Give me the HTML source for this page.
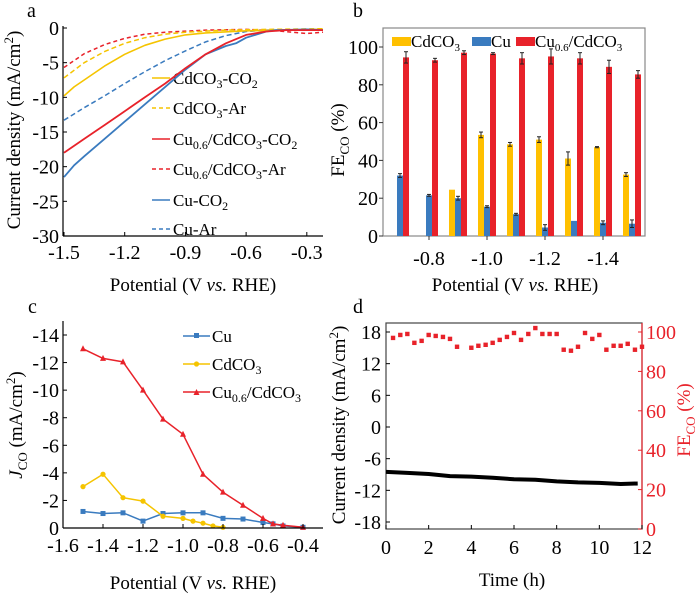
<!DOCTYPE html>
<html><head><meta charset="utf-8"><style>
html,body{margin:0;padding:0;background:#fff;}
svg, svg text, svg tspan{font-family:"Liberation Serif","Times New Roman",Times,"DejaVu Serif",serif !important;}
</style></head><body>
<svg id="fig" width="700" height="594" viewBox="0 0 700 594" xmlns="http://www.w3.org/2000/svg">
<text x="27" y="17" font-size="20">a</text>
<text x="353" y="17" font-size="20">b</text>
<text x="28" y="313" font-size="20">c</text>
<text x="353" y="313" font-size="20">d</text>
<text x="193" y="291" font-size="19" text-anchor="middle">Potential (V <tspan font-style="italic">vs.</tspan> RHE)</text>
<text transform="translate(20,130) rotate(-90)" font-size="19" text-anchor="middle">Current density (mA/cm<tspan dy="-7" font-size="13">2</tspan><tspan dy="7">)</tspan></text>
<text x="515" y="291" font-size="19" text-anchor="middle">Potential (V <tspan font-style="italic">vs.</tspan> RHE)</text>
<text transform="translate(344,140) rotate(-90)" font-size="19" text-anchor="middle">FE<tspan dy="5" font-size="13">CO</tspan><tspan dy="-5"> (%)</tspan></text>
<text x="193" y="589" font-size="19" text-anchor="middle">Potential (V <tspan font-style="italic">vs.</tspan> RHE)</text>
<text transform="translate(22,425) rotate(-90)" font-size="19" text-anchor="middle"><tspan font-style="italic">J</tspan><tspan dy="5" font-size="13">CO</tspan><tspan dy="-5"> (mA/cm</tspan><tspan dy="-7" font-size="13">2</tspan><tspan dy="7">)</tspan></text>
<text x="512" y="586" font-size="19" text-anchor="middle">Time (h)</text>
<text transform="translate(345,425) rotate(-90)" font-size="19" text-anchor="middle">Current density (mA/cm<tspan dy="-7" font-size="13">2</tspan><tspan dy="7">)</tspan></text>
<text transform="translate(690,420) rotate(-90)" font-size="19" text-anchor="middle" fill="#e8222a">FE<tspan dy="5" font-size="13">CO</tspan><tspan dy="-5"> (%)</tspan></text>
<g font-size="17">
<line x1="152" y1="78" x2="170" y2="78" stroke="#f5c400" stroke-width="1.5"/><text x="173" y="84">CdCO<tspan dy="4" font-size="12">3</tspan><tspan dy="-4">-CO</tspan><tspan dy="4" font-size="12">2</tspan></text>
<line x1="152" y1="108" x2="170" y2="108" stroke="#f5c400" stroke-width="1.5" stroke-dasharray="4,3"/><text x="173" y="114">CdCO<tspan dy="4" font-size="12">3</tspan><tspan dy="-4">-Ar</tspan></text>
<line x1="152" y1="139" x2="170" y2="139" stroke="#e8222a" stroke-width="1.5"/><text x="173" y="145">Cu<tspan dy="4" font-size="12">0.6</tspan><tspan dy="-4">/CdCO</tspan><tspan dy="4" font-size="12">3</tspan><tspan dy="-4">-CO</tspan><tspan dy="4" font-size="12">2</tspan></text>
<line x1="152" y1="169" x2="170" y2="169" stroke="#e8222a" stroke-width="1.5" stroke-dasharray="4,3"/><text x="173" y="175">Cu<tspan dy="4" font-size="12">0.6</tspan><tspan dy="-4">/CdCO</tspan><tspan dy="4" font-size="12">3</tspan><tspan dy="-4">-Ar</tspan></text>
<line x1="152" y1="200" x2="170" y2="200" stroke="#3a7bbf" stroke-width="1.5"/><text x="173" y="206">Cu-CO<tspan dy="4" font-size="12">2</tspan></text>
<line x1="152" y1="229" x2="170" y2="229" stroke="#3a7bbf" stroke-width="1.5" stroke-dasharray="4,3"/><text x="173" y="235">Cu-Ar</text>
</g>
<g font-size="17">
<rect x="392" y="37" width="19" height="9" fill="#ffc000"/><text x="411" y="47">CdCO<tspan dy="4" font-size="11">3</tspan></text>
<rect x="472" y="37" width="19" height="9" fill="#3a7bbf"/><text x="491" y="47">Cu</text>
<rect x="516" y="37" width="19" height="9" fill="#e8222a"/><text x="535" y="47">Cu<tspan dy="4" font-size="11">0.6</tspan><tspan dy="-4">/CdCO</tspan><tspan dy="4" font-size="11">3</tspan></text>
</g>
<g font-size="17">
<line x1="183" y1="336" x2="210" y2="336" stroke="#3a7bbf" stroke-width="1.5"/><rect x="194" y="333" width="5" height="5" fill="#3a7bbf"/><text x="212" y="342">Cu</text>
<line x1="183" y1="364" x2="210" y2="364" stroke="#f5c400" stroke-width="1.5"/><circle cx="196.5" cy="364" r="2.6" fill="#f5c400"/><text x="212" y="370">CdCO<tspan dy="4" font-size="12">3</tspan></text>
<line x1="183" y1="392" x2="210" y2="392" stroke="#e8222a" stroke-width="1.5"/><path d="M193.5,395 L196.5,389 L199.5,395Z" fill="#e8222a"/><text x="212" y="398">Cu<tspan dy="4" font-size="12">0.6</tspan><tspan dy="-4">/CdCO</tspan><tspan dy="4" font-size="12">3</tspan></text>
</g>
<g id="marks"></g>
</svg>
<script>
// ---------- Panel a data ----------
const aCuCO2V = [-1.5,-1.45,-1.4,-1.3,-1.2,-1.1,-1.0,-0.9,-0.8,-0.7,-0.65,-0.6,-0.5,-0.45,-0.3,-0.22];
const aCuCO2J = [-21.5,-19.8,-18.5,-16,-13.5,-11,-8.5,-6,-3.8,-2.6,-2.2,-1.4,-0.5,-0.3,-0.2,-0.3];
const aCuCdCO2V = [-1.5,-1.4,-1.3,-1.2,-1.1,-1.0,-0.9,-0.8,-0.7,-0.6,-0.5,-0.4,-0.22];
const aCuCdCO2J = [-18,-16,-14,-12,-10,-8,-5.8,-3.8,-2.2,-1.0,-0.5,-0.3,-0.3];
const aCdCO2V = [-1.5,-1.45,-1.4,-1.3,-1.2,-1.1,-1.0,-0.9,-0.8,-0.6,-0.4,-0.22];
const aCdCO2J = [-9.8,-8.5,-7.5,-5.5,-3.8,-2.5,-1.6,-1.0,-0.7,-0.4,-0.3,-0.2];
const aCdArV = [-1.5,-1.4,-1.3,-1.2,-1.1,-1.0,-0.9,-0.7,-0.5,-0.22];
const aCdArJ = [-7.2,-5.0,-3.4,-2.2,-1.4,-0.9,-0.6,-0.3,-0.2,-0.1];
const aCuCdArV = [-1.5,-1.4,-1.3,-1.2,-1.1,-1.0,-0.8,-0.6,-0.45,-0.3,-0.22];
const aCuCdArJ = [-5.7,-3.7,-2.4,-1.5,-0.9,-0.6,-0.3,-0.2,-0.4,-0.8,-0.6];
const aCuArV = [-1.5,-1.4,-1.3,-1.2,-1.1,-1.0,-0.9,-0.8,-0.7,-0.6,-0.5,-0.22];
const aCuArJ = [-13.3,-11.5,-9.8,-8,-6.3,-4.7,-3.3,-2.0,-1.1,-0.5,-0.3,-0.2];
const aXTicks = [-1.5,-1.2,-0.9,-0.6,-0.3];
const aYTicks = [0,-5,-10,-15,-20,-25,-30];
// ---------- Panel b data ----------
const bPotentials = [-0.7,-0.8,-0.9,-1.0,-1.1,-1.2,-1.3,-1.4,-1.5];
const bCdCO3 = [null,null,24.5,53.5,48.5,51,41,47,32.5];
const bCdCO3Err = [0,0,0,1.5,1,1.5,3.5,0.3,1];
const bCu = [32,21.5,20,15.5,11.5,4.5,8,7,6.5];
const bCuErr = [1,0.5,1,0.5,0.5,1.5,0,1,2];
const bCuCd = [94.5,93,97,96.5,94,95,94,89.5,85.5];
const bCuCdErr = [3,1,1,0.5,3,4,3,3.5,2];
const bXTicks = [-0.8,-1.0,-1.2,-1.4];
const bYTicks = [0,20,40,60,80,100];
// ---------- Panel c data ----------
const cCuV = [-1.5,-1.4,-1.3,-1.2,-1.1,-1.0,-0.9,-0.8,-0.7,-0.6,-0.55,-0.5,-0.4];
const cCuJ = [1.2,1.05,1.1,0.5,1.05,1.1,1.1,0.7,0.65,0.4,0.3,0.15,0.05];
const cCdV = [-1.5,-1.4,-1.3,-1.2,-1.1,-1.0,-0.95,-0.9,-0.85,-0.8];
const cCdJ = [3.0,3.9,2.2,1.95,0.85,0.7,0.5,0.35,0.15,0.05];
const cCuCdV = [-1.5,-1.4,-1.3,-1.2,-1.1,-1.0,-0.9,-0.8,-0.7,-0.6,-0.55,-0.5,-0.4];
const cCuCdJ = [13.0,12.3,12.05,10.0,7.9,6.8,3.9,2.6,1.65,0.7,0.3,0.2,0.05];
const cXTicks = [-1.6,-1.4,-1.2,-1.0,-0.8,-0.6,-0.4];
const cYTicks = [0,2,4,6,8,10,12,14];
// ---------- Panel d data ----------
const dTime = [0,1,2,3,4,5,6,7,8,9,10,11,11.8];
const dCurrent = [-8.5,-8.7,-8.9,-9.3,-9.4,-9.6,-9.9,-10.0,-10.3,-10.5,-10.6,-10.8,-10.7];
const dFETime = [0.33,0.67,1,1.33,1.67,2,2.33,2.67,3,3.33,4,4.33,4.67,5,5.33,5.67,6,6.33,6.67,7,7.33,7.67,8,8.33,8.67,9,9.33,9.67,10,10.33,10.67,11,11.33,11.67,12];
const dFE = [97,98.5,99,94.5,95.5,98.5,98,97.5,96.5,92.5,92,93,93.5,94.5,96,97.5,99.5,96,99,102,99,99,99,91,90.5,92.5,99.5,96.5,98.5,91,93,93,94,91,92.5];
const dXTicks = [0,2,4,6,8,10,12];
const dYTicks = [18,12,6,0,-6,-12,-18];
const dRTicks = [0,20,40,60,80,100];

const NS = 'http://www.w3.org/2000/svg';
const root = document.getElementById('marks');
function mk(tag, attrs, name){
  const el = document.createElementNS(NS, tag);
  for (const k in attrs) el.setAttribute(k, attrs[k]);
  
  
  root.appendChild(el);
  return el;
}
function lin(d0,d1,r0,r1){ return v => r0 + (v-d0)*(r1-r0)/(d1-d0); }
function txt(x,y,s,anchor,name,fill){
  const t = mk('text',{x:x,y:y,'font-size':20,'text-anchor':anchor,fill:fill||'#000'},name);
  t.textContent = s;
  return t;
}
function poly(xs,ys,sx,sy,stroke,w,dash,name){
  const pts = xs.map((v,i)=>sx(v).toFixed(1)+','+sy(ys[i]).toFixed(1)).join(' ');
  const a = {points:pts,fill:'none',stroke:stroke,'stroke-width':w,'stroke-linejoin':'round'};
  if (dash) a['stroke-dasharray'] = dash;
  return mk('polyline',a,name);
}

// ===== Panel a =====
(function(){
  const L=63,R=323,T=28,B=236;
  const sx = lin(-1.5,-0.22,L+1,R);
  const sy = lin(0,-30,T,B);
  poly(aCuArV,aCuArJ,sx,sy,'#3a7bbf',1.5,'5,3','a-cu-ar-line');
  poly(aCuCdArV,aCuCdArJ,sx,sy,'#e8222a',1.5,'4,3','a-cu06-cdco3-ar-line');
  poly(aCdArV,aCdArJ,sx,sy,'#f5c400',1.5,'5,3','a-cdco3-ar-line');
  poly(aCdCO2V,aCdCO2J,sx,sy,'#f5c400',1.6,null,'a-cdco3-co2-line');
  poly(aCuCO2V,aCuCO2J,sx,sy,'#3a7bbf',1.8,null,'a-cu-co2-line');
  poly(aCuCdCO2V,aCuCdCO2J,sx,sy,'#e8222a',1.8,null,'a-cu06-cdco3-co2-line');
  mk('line',{x1:L,y1:T-2,x2:L,y2:B,stroke:'#000','stroke-width':1.2},'a-y-axis');
  mk('line',{x1:L,y1:B,x2:R,y2:B,stroke:'#000','stroke-width':1.2},'a-x-axis');
  aYTicks.forEach(v=>{
    mk('line',{x1:L,y1:sy(v),x2:L+4,y2:sy(v),stroke:'#000'},'a-y-tick');
    txt(L-4,sy(v)+7,String(v),'end','a-y-tick-label');
  });
  aXTicks.forEach(v=>{
    mk('line',{x1:sx(v),y1:B,x2:sx(v),y2:B-4,stroke:'#000'},'a-x-tick');
    txt(sx(v),B+23,v.toFixed(1),'middle','a-x-tick-label');
  });
})();

// ===== Panel b =====
(function(){
  const L=383,R=645,T=28,B=236;
  const sx = lin(-0.7,-0.8,400,429);
  const sy = lin(0,100,B,47);
  mk('rect',{x:L,y:T,width:R-L,height:B-T,fill:'none',stroke:'#888','stroke-width':1.2},'b-plot-frame');
  const bw=6, off=6;
  const series = [[bCdCO3,bCdCO3Err,'#ffc000',-off,'b-bar-cdco3'],[bCu,bCuErr,'#3a7bbf',0,'b-bar-cu'],[bCuCd,bCuCdErr,'#e8222a',off,'b-bar-cu06-cdco3']];
  series.forEach(s=>{
    bPotentials.forEach((p,i)=>{
      const v = s[0][i];
      if (v===null) return;
      const cx = sx(p)+s[3];
      mk('rect',{x:cx-bw/2,y:sy(v),width:bw,height:B-sy(v),fill:s[2]},s[4]);
      const e = s[1][i];
      if (e>0){
        mk('line',{x1:cx,y1:sy(v+e),x2:cx,y2:sy(v-e),stroke:'#222','stroke-width':1},'b-error-bar');
        mk('line',{x1:cx-2,y1:sy(v+e),x2:cx+2,y2:sy(v+e),stroke:'#222','stroke-width':1},'b-error-cap');
        mk('line',{x1:cx-2,y1:sy(v-e),x2:cx+2,y2:sy(v-e),stroke:'#222','stroke-width':1},'b-error-cap');
      }
    });
  });
  bYTicks.forEach(v=>{
    mk('line',{x1:L,y1:sy(v),x2:L-4,y2:sy(v),stroke:'#333'},'b-y-tick');
    txt(L-5,sy(v)+7,String(v),'end','b-y-tick-label');
  });
  bXTicks.forEach(v=>{
    mk('line',{x1:sx(v),y1:B,x2:sx(v),y2:B+4,stroke:'#333'},'b-x-tick');
    txt(sx(v),B+29,v.toFixed(1),'middle','b-x-tick-label');
  });
})();

// ===== Panel c =====
(function(){
  const L=63,R=323,T=321,B=528;
  const sx = lin(-1.6,-0.4,L,303);
  const sy = lin(0,14,B,335);
  poly(cCuV,cCuJ,sx,sy,'#3a7bbf',1.5,null,'c-cu-line');
  cCuV.forEach((v,i)=>mk('rect',{x:sx(v)-2.5,y:sy(cCuJ[i])-2.5,width:5,height:5,fill:'#3a7bbf'},'c-cu-point'));
  poly(cCdV,cCdJ,sx,sy,'#f5c400',1.5,null,'c-cdco3-line');
  cCdV.forEach((v,i)=>mk('circle',{cx:sx(v),cy:sy(cCdJ[i]),r:2.6,fill:'#f5c400'},'c-cdco3-point'));
  poly(cCuCdV,cCuCdJ,sx,sy,'#e8222a',1.5,null,'c-cu06-cdco3-line');
  cCuCdV.forEach((v,i)=>{const x=sx(v),y=sy(cCuCdJ[i]);mk('path',{d:`M${x-3},${y+2.5} L${x},${y-3.5} L${x+3},${y+2.5}Z`,fill:'#e8222a'},'c-cu06-cdco3-point');});
  mk('line',{x1:L,y1:T,x2:L,y2:B,stroke:'#000','stroke-width':1.2},'c-y-axis');
  mk('line',{x1:L,y1:B,x2:R,y2:B,stroke:'#000','stroke-width':1.2},'c-x-axis');
  cYTicks.forEach(v=>{
    mk('line',{x1:L,y1:sy(v),x2:L+4,y2:sy(v),stroke:'#000'},'c-y-tick');
    txt(L-4,sy(v)+7,v===0?'0':'-'+v,'end','c-y-tick-label');
  });
  cXTicks.forEach(v=>{
    mk('line',{x1:sx(v),y1:B,x2:sx(v),y2:B-4,stroke:'#000'},'c-x-tick');
    txt(sx(v),B+24,v.toFixed(1),'middle','c-x-tick-label');
  });
})();

// ===== Panel d =====
(function(){
  const L=386,R=642,T=323,B=529;
  const sx = lin(0,12,L,R);
  const sy = lin(0,18,427,332);
  const sr = lin(0,100,B,332);
  mk('rect',{x:L,y:T,width:R-L,height:B-T,fill:'none',stroke:'#444','stroke-width':1.2},'d-plot-frame');
  mk('line',{x1:R,y1:T,x2:R,y2:B,stroke:'#e8222a','stroke-width':1.2},'d-right-y-axis');
  poly(dTime,dCurrent,sx,sy,'#000',4,null,'d-current-line');
  dFETime.forEach((t,i)=>mk('rect',{x:sx(t)-2.2,y:sr(dFE[i])-2.2,width:4.4,height:4.4,fill:'#e8222a'},'d-fe-point'));
  dYTicks.forEach(v=>{
    mk('line',{x1:L,y1:sy(v),x2:L+4,y2:sy(v),stroke:'#000'},'d-y-tick');
    txt(L-5,sy(v)+7,String(v),'end','d-y-tick-label');
  });
  dRTicks.forEach(v=>{
    mk('line',{x1:R,y1:sr(v),x2:R-4,y2:sr(v),stroke:'#e8222a'},'d-right-tick');
    txt(R+4,sr(v)+7,String(v),'start','d-right-tick-label','#e8222a');
  });
  dXTicks.forEach(v=>{
    mk('line',{x1:sx(v),y1:B,x2:sx(v),y2:B-4,stroke:'#000'},'d-x-tick');
    txt(sx(v),B+25,String(v),'middle','d-x-tick-label');
  });
})();
</script>
</body></html>
